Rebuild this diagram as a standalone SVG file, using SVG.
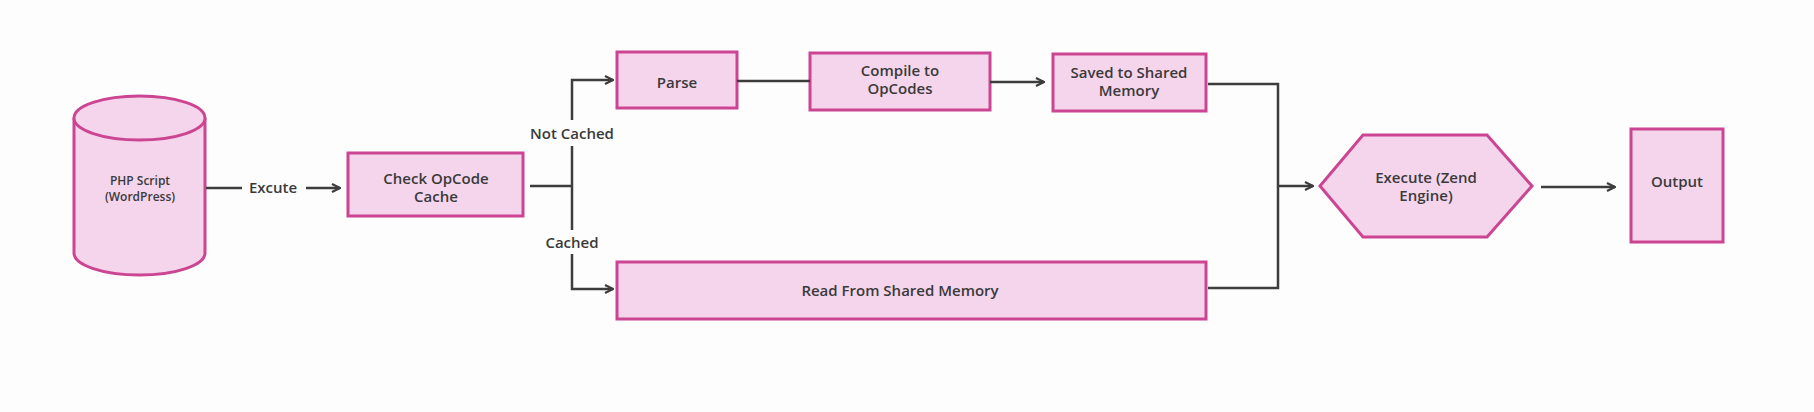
<svg xmlns="http://www.w3.org/2000/svg" width="1814" height="412" viewBox="0 0 1814 412">
<style>
.n{fill:#f5d5ec;stroke:#cc4592;stroke-width:3}
.t{font-family:"Open Sans","Liberation Sans",sans-serif;font-size:15px;font-weight:600;fill:#3a3a3a;text-anchor:middle}
.s{font-size:12px}
.c{fill:none;stroke:#3d3d3d;stroke-width:2.5}
</style>
<defs>
<marker id="a" viewBox="0 0 10 10" refX="9" refY="5" markerWidth="10" markerHeight="10" markerUnits="userSpaceOnUse" orient="auto">
<path d="M1,1 L9,5 L1,9" fill="none" stroke="#3d3d3d" stroke-width="2.2"/>
</marker>
</defs>
<rect width="1814" height="412" fill="#fdfdfe"/>
<g id="php">
<path class="n" d="M74,118 L74,253 A65.5,22 0 0 0 205,253 L205,118"/>
<ellipse class="n" cx="139.5" cy="118" rx="65.5" ry="22"/>
<text class="t s" x="140" y="185">PHP Script</text>
<text class="t s" x="140" y="201">(WordPress)</text>
</g>
<g id="check">
<rect class="n" x="348" y="153" width="175" height="63"/>
<text class="t" x="436" y="184">Check OpCode</text>
<text class="t" x="436" y="202">Cache</text>
</g>
<g id="parse">
<rect class="n" x="617" y="52" width="120" height="56"/>
<text class="t" x="677" y="88">Parse</text>
</g>
<g id="compile">
<rect class="n" x="810" y="53" width="180" height="57"/>
<text class="t" x="900" y="76">Compile to</text>
<text class="t" x="900" y="94">OpCodes</text>
</g>
<g id="saved">
<rect class="n" x="1053" y="54" width="153" height="57"/>
<text class="t" x="1129" y="78">Saved to Shared</text>
<text class="t" x="1129" y="96">Memory</text>
</g>
<g id="read">
<rect class="n" x="617" y="262" width="589" height="57"/>
<text class="t" x="900" y="296">Read From Shared Memory</text>
</g>
<g id="execute">
<polygon class="n" points="1320,186 1363,135 1487,135 1532,186 1487,237 1363,237"/>
<text class="t" x="1426" y="183">Execute (Zend</text>
<text class="t" x="1426" y="201">Engine)</text>
</g>
<g id="output">
<rect class="n" x="1631" y="129" width="92" height="113"/>
<text class="t" x="1677" y="187">Output</text>
</g>
<g id="connectors">
<path class="c" d="M206,188 L242,188"/>
<text class="t" x="273" y="193">Excute</text>
<path class="c" d="M306,188 L340,188" marker-end="url(#a)"/>
<path class="c" d="M530,186 L572,186"/>
<path class="c" d="M572,186 L572,146"/>
<path class="c" d="M572,120 L572,80 L613,80" marker-end="url(#a)"/>
<text class="t" x="572" y="139">Not Cached</text>
<path class="c" d="M572,186 L572,230"/>
<text class="t" x="572" y="248">Cached</text>
<path class="c" d="M572,254 L572,289 L613,289" marker-end="url(#a)"/>
<path class="c" d="M737,81 L810,81"/>
<path class="c" d="M990,82 L1044,82" marker-end="url(#a)"/>
<path class="c" d="M1208,84 L1278,84 L1278,288 L1208,288"/>
<path class="c" d="M1278,186 L1313,186" marker-end="url(#a)"/>
<path class="c" d="M1541,187 L1615,187" marker-end="url(#a)"/>
</g>
</svg>
